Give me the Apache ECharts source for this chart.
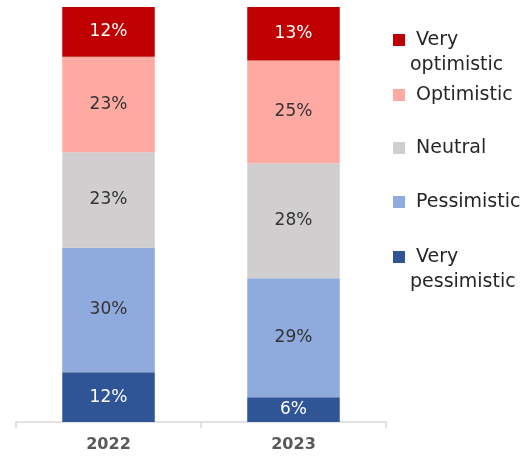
<!DOCTYPE html>
<html>
<head>
<meta charset="utf-8">
<script src="https://cdn.jsdelivr.net/npm/echarts@6/dist/echarts.min.js"></script>
<style>html,body{margin:0;padding:0;background:#fff;}#c{width:532px;height:458px;}</style>
</head>
<body>
<div id="c"></div>
<script>
const categories = ['2022', '2023'];
const seriesNames = ['Very pessimistic', 'Pessimistic', 'Neutral', 'Optimistic', 'Very optimistic'];
const veryPessimistic = [12, 6];
const pessimistic = [30, 29];
const neutral = [23, 28];
const optimistic = [23, 25];
const veryOptimistic = [12, 13];

const colors = ['#2F5597', '#8FAADC', '#D0CECE', '#FFA9A3', '#C00000'];
const labelColors = ['#ffffff', '#333333', '#333333', '#333333', '#ffffff'];
const raw = [veryPessimistic, pessimistic, neutral, optimistic, veryOptimistic];
const totals = categories.map((c, i) => raw.reduce((s, a) => s + a[i], 0));

const series = raw.map((arr, k) => ({
  name: seriesNames[k],
  type: 'bar',
  stack: 'total',
  barWidth: '50%',
  itemStyle: { color: colors[k] },
  data: arr.map((v, i) => ({ value: v / totals[i] * 100, raw: v })),
  label: {
    show: true,
    position: 'inside',
    color: labelColors[k],
    fontFamily: 'DejaVu Sans',
    fontSize: 17,
    formatter: p => p.data.raw + '%'
  }
}));

// legend layout (top to bottom)
const legendItems = [
  { name: 'Very optimistic', text: '\n Very\noptimistic', c: 40, lines: 3 },
  { name: 'Optimistic', text: ' Optimistic', c: 95, lines: 1 },
  { name: 'Neutral', text: ' Neutral', c: 148, lines: 1 },
  { name: 'Pessimistic', text: ' Pessimistic', c: 202, lines: 1 },
  { name: 'Very pessimistic', text: '\n Very\npessimistic', c: 257, lines: 3 }
];
const LH = 25;
const legends = legendItems.map(it => ({
  data: [it.name],
  orient: 'vertical',
  left: 393,
  top: it.c - it.lines * LH / 2,
  padding: 0,
  itemWidth: 12,
  itemHeight: 12,
  icon: 'rect',
  formatter: () => it.text,
  textStyle: { fontFamily: 'DejaVu Sans', fontSize: 19, color: '#262626', lineHeight: LH }
}));

const chart = echarts.init(document.getElementById('c'));
chart.setOption({
  animation: false,
  backgroundColor: '#ffffff',
  grid: { left: 16, right: 146, top: 7, bottom: 36, containLabel: false },
  legend: legends,
  xAxis: {
    type: 'category',
    data: categories,
    axisLine: { lineStyle: { color: '#D9D9D9', width: 1.5 } },
    axisTick: { show: true, length: 6, lineStyle: { color: '#D9D9D9', width: 1.5 } },
    axisLabel: { fontFamily: 'DejaVu Sans', fontSize: 16, fontWeight: 'bold', color: '#595959', margin: 15 }
  },
  yAxis: { type: 'value', min: 0, max: 100, show: false, splitLine: { show: false } },
  series: series
});
</script>
</body>
</html>
